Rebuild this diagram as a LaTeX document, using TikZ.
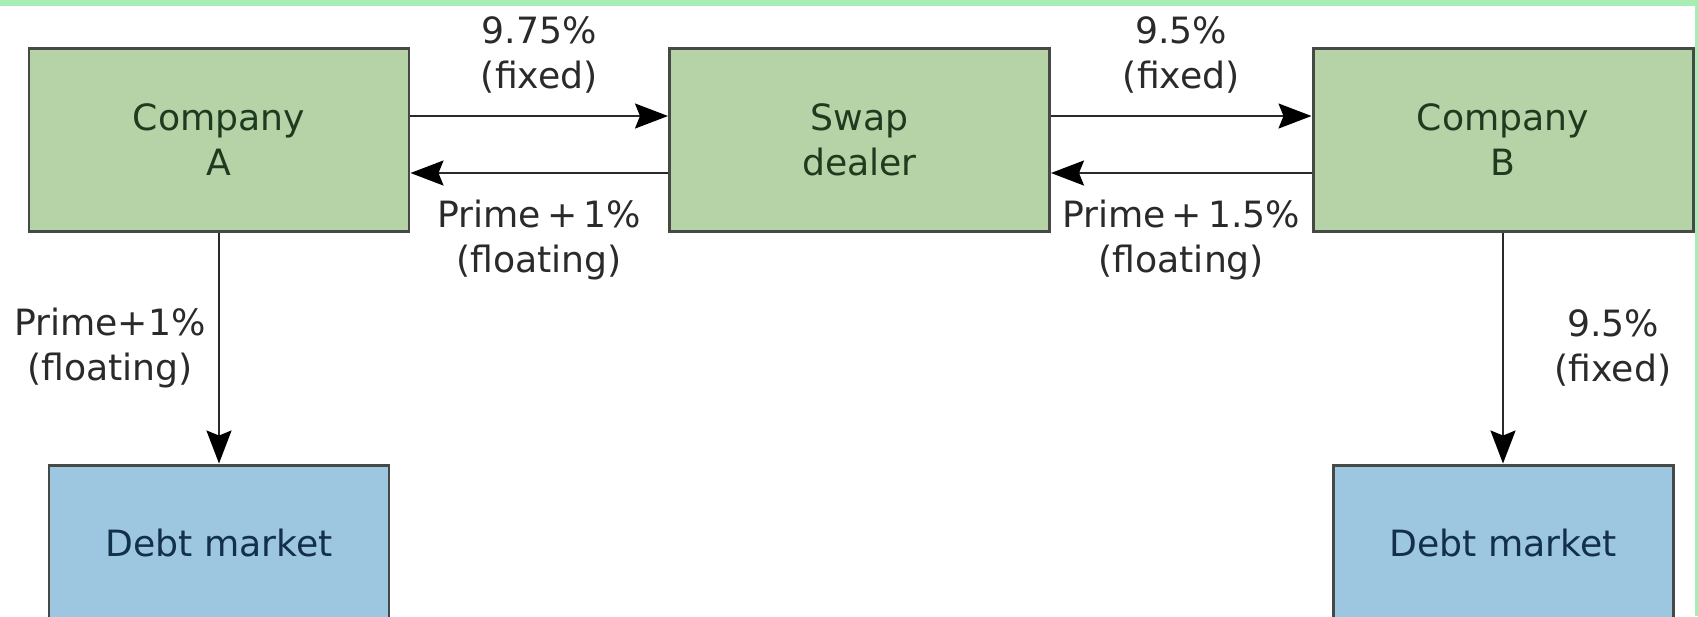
\documentclass[tikz,border=0pt]{standalone}
\usepackage{fontspec}
\setmainfont{DejaVu Sans}
\usetikzlibrary{arrows.meta}

\definecolor{boxgreen}{HTML}{B5D3A7}
\definecolor{boxblue}{HTML}{9DC6E1}
\definecolor{bandgreen}{HTML}{A8EDB3}
\definecolor{edgegray}{HTML}{464A46}
\definecolor{textgreen}{HTML}{1F3B1F}
\definecolor{textblue}{HTML}{13304A}
\definecolor{ink}{HTML}{2A2A2A}

\tikzset{
  party/.style={draw=edgegray, line width=0.85pt, fill=boxgreen, text=textgreen,
    minimum width=38mm, minimum height=18.3mm, align=center, inner sep=0pt},
  market/.style={party, fill=boxblue, text=textblue, minimum width=34mm, minimum height=15.6mm},
  flow/.style={-{Stealth[length=3.3mm,width=2.5mm,inset=0.5mm,color=black]}, line width=0.6pt, draw=ink},
  rate/.style={text=ink, align=center, inner sep=0pt}
}

\begin{document}
\begin{tikzpicture}[x=0.1mm, y=-0.1mm, font=\fontsize{10.3}{12.8}\selectfont]
  \useasboundingbox (0,0) rectangle (1698,616);
  \clip (0,0) rectangle (1698,616);
  \fill[white] (0,0) rectangle (1698,616);
  \fill[bandgreen] (0,0) rectangle (1698,6);
  \fill[bandgreen] (1695,0) rectangle (1698,616);

  % the three parties
  \node[party] (compA) at (219,139.5) {Company\\A};
  \node[party] (dealer) at (859.5,139.5) {Swap\\dealer};
  \node[party] (compB) at (1503,139.5) {Company\\B};
  % the markets, cut off by the bottom edge
  \node[market] (debtA) at (219,543) {Debt market};
  \node[market] (debtB) at (1503,543) {Debt market};

  % swap payments
  \draw[flow] ([yshift=2.35mm]compA.east) -- ([yshift=2.35mm]dealer.west)
    node[rate, midway, yshift=6.1mm] (fixA) {9.75\%\\(fixed)};
  \draw[flow] ([yshift=-3.35mm]dealer.west) -- ([yshift=-3.35mm]compA.east)
    node[rate, midway, yshift=-6.7mm] (floatA) {Prime\,+\,1\%\\(floating)};
  \draw[flow] ([yshift=2.35mm]dealer.east) -- ([yshift=2.35mm]compB.west)
    node[rate, midway, yshift=6.1mm] (fixB) {9.5\%\\(fixed)};
  \draw[flow] ([yshift=-3.35mm]compB.west) -- ([yshift=-3.35mm]dealer.east)
    node[rate, midway, yshift=-6.7mm] (floatB) {Prime\,+\,1.5\%\\(floating)};

  % loans from the debt market
  \draw[flow] (compA.south) -- (debtA.north)
    node[rate, midway, xshift=-10.9mm] (loanA) {Prime+1\%\\(floating)};
  \draw[flow] (compB.south) -- (debtB.north)
    node[rate, midway, xshift=11mm] (loanB) {9.5\%\\(fixed)};
\end{tikzpicture}
\end{document}
